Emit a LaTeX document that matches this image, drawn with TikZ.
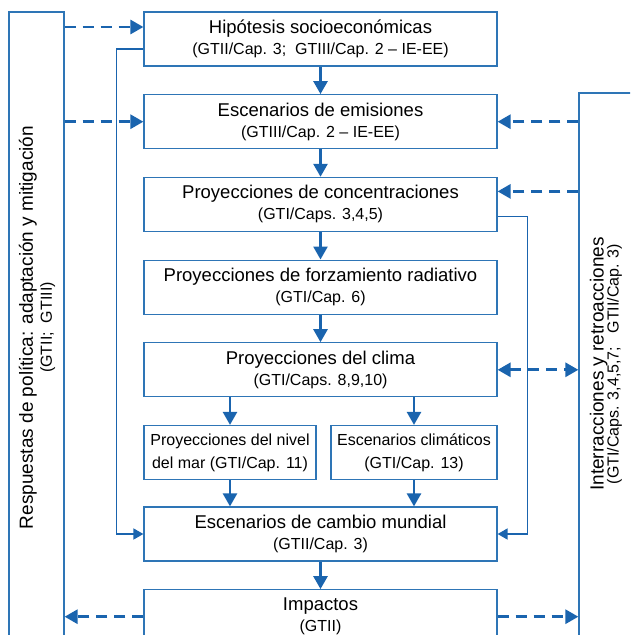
\documentclass[tikz,border=0pt]{standalone}
\usepackage{fontspec}
\setmainfont{Liberation Sans}
\usepackage{tikz}
\usetikzlibrary{
  arrows.meta,
  positioning
}
\definecolor{boxblue}{HTML}{2E75B6}
\definecolor{flowblue}{HTML}{1A64AE}
\newcommand{\boxtitlefont}{\fontsize{18.5}{21}\selectfont}
\newcommand{\boxsubfont}{\fontsize{16}{18}\selectfont}
\newcommand{\boxsmallfont}{\fontsize{16}{23}\selectfont}
\tikzset{
  stage/.style={
    rectangle, draw=boxblue, fill=white, line width=1.2pt,
    minimum width=353pt, minimum height=54pt, inner sep=2pt,
    align=center, font=\boxtitlefont
  },
  substage/.style={stage, minimum width=#1, font=\boxsmallfont},
  sidebox/.style={rectangle, draw=boxblue, line width=1.2pt},
  sidetext/.style={rotate=90, align=center, font=\fontsize{19}{19}\selectfont},
  arrow/.style={->, draw=flowblue, line width=2.6pt},
  dasharrow/.style={->, draw=flowblue, line width=2.8pt, dash pattern=on 11pt off 7pt},
  looparrow/.style={-{Triangle[length=10pt, width=11pt]}, draw=flowblue, line width=1.6pt},
}

\begin{document}
\begin{tikzpicture}[
  x=1pt, y=-1pt,
  node distance=27.5pt,
  >={Triangle[length=13pt, width=14pt]},
]
\useasboundingbox (0,0) rectangle (630,635);
\clip (0,0) rectangle (630,635);

% Side boxes (open at the bottom of the page)
\node[sidebox, minimum width=55pt, minimum height=648pt] (policy) at (36.5,336) {};
\node[sidebox, minimum width=71pt, minimum height=567pt] (interact) at (614.5,376.5) {};
\node[sidetext] (policylbl) at (37,327.5) {Respuestas de política: adaptación y mitigación\\{\boxsubfont (GTII;~~GTIII)}};
\node[sidetext] (interactlbl) at (606,364) {Interracciones y retroacciones\\[-4pt]{\boxsubfont (GTI/Caps. 3,4,5,7;~~~GTII/Cap. 3)}};

% Main chain
\node[stage] (hyp) at (320.5,39) {Hipótesis socioeconómicas\\{\boxsubfont (GTII/Cap. 3;~~GTIII/Cap. 2 – IE-EE)}};
\node[stage, below=of hyp] (emis) {Escenarios de emisiones\\{\boxsubfont (GTIII/Cap. 2 – IE-EE)}};
\node[stage, below=of emis] (conc) {Proyecciones de concentraciones\\{\boxsubfont (GTI/Caps. 3,4,5)}};
\node[stage, below=of conc] (forz) {Proyecciones de forzamiento radiativo\\{\boxsubfont (GTI/Cap. 6)}};
\node[stage, below=of forz] (clima) {Proyecciones del clima\\{\boxsubfont (GTI/Caps. 8,9,10)}};
\node[substage=172pt, below=of clima.south west, anchor=north west] (nivel) {Proyecciones del nivel\\del mar (GTI/Cap. 11)};
\node[substage=166pt, below=of clima.south east, anchor=north east] (climesc) {Escenarios climáticos\\(GTI/Cap. 13)};
\node[stage, below=of clima, yshift=-81.5pt] (mundial) {Escenarios de cambio mundial\\{\boxsubfont (GTII/Cap. 3)}};
\node[stage, below=of mundial] (impact) {Impactos\\{\boxsubfont (GTII)}};

% Arrows
\draw[arrow] (hyp) -- (emis);
\draw[arrow] (emis) -- (conc);
\draw[arrow] (conc) -- (forz);
\draw[arrow] (forz) -- (clima);
\draw[arrow] (nivel.north |- clima.south) -- (nivel.north);
\draw[arrow] (climesc.north |- clima.south) -- (climesc.north);
\draw[arrow] (nivel.south) -- (nivel.south |- mundial.north);
\draw[arrow] (climesc.south) -- (climesc.south |- mundial.north);
\draw[arrow] (mundial) -- (impact);

% Loops
\draw[looparrow] ([yshift=-10pt]hyp.west) -- ++(-27,0) |- (mundial.west);
\draw[looparrow] ([yshift=-12pt]conc.east) -- ++(30,0) |- (mundial.east);

% Dashed links
\coordinate (hypin) at ([yshift=12pt]hyp.west);
\coordinate (concin) at ([yshift=13pt]conc.east);
\draw[dasharrow] (policy.east |- hypin) -- (hypin);
\draw[dasharrow] (policy.east |- emis.west) -- (emis.west);
\draw[dasharrow] (interact.west |- emis.east) -- (emis.east);
\draw[dasharrow] (interact.west |- concin) -- (concin);
\draw[dasharrow, <->] (clima.east) -- (interact.west |- clima.east);
\draw[dasharrow] (impact.west) -- (policy.east |- impact.west);
\draw[dasharrow] (impact.east) -- (interact.west |- impact.east);

\end{tikzpicture}
\end{document}
